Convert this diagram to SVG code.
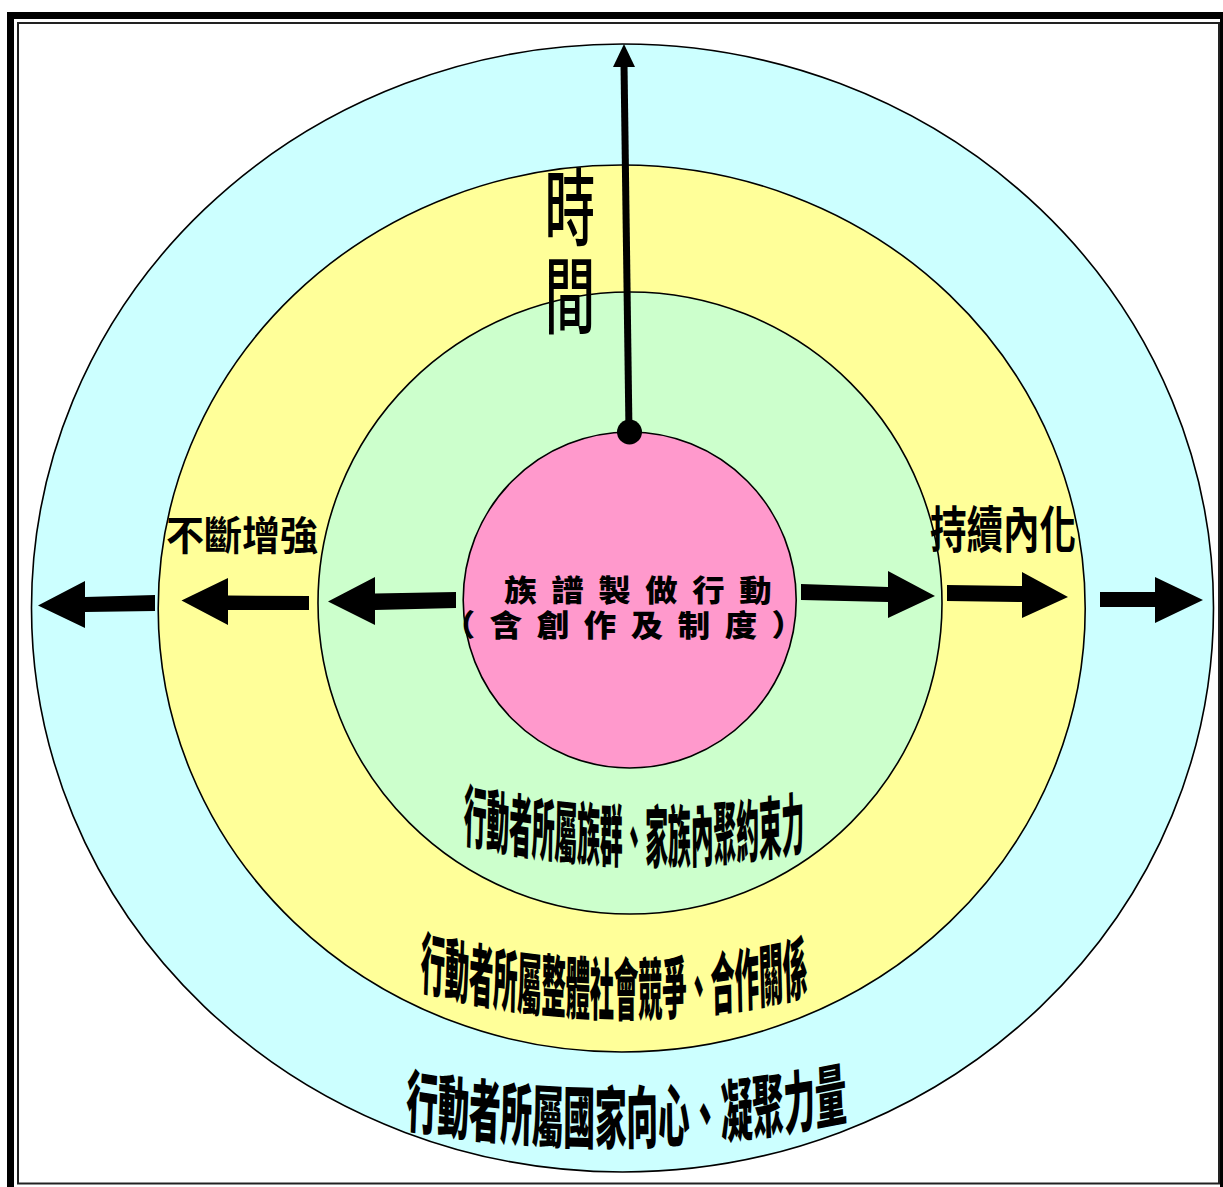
<svg xmlns="http://www.w3.org/2000/svg" xmlns:xlink="http://www.w3.org/1999/xlink" width="1223" height="1187" viewBox="0 0 1223 1187">
<style>
.ring{stroke:#000;stroke-width:1.6}
.cjk{font-family:"Noto Sans CJK TC","Noto Sans CJK SC",sans-serif;fill:#000}
.heavy{font-weight:900}
.bold{font-weight:700}
.arrow{fill:#000;stroke:none}
</style>
<defs>
<path id="arc1" d="M -510 840 Q 0 880 510 848"/>
<path id="arc2" d="M -543 987 Q 0 1040.5 543 992"/>
<path id="arc3" d="M -476 1125 Q 0 1164.5 476 1118"/>
</defs>
<rect width="1223" height="1187" fill="#fff"/>
<g id="frame">
<rect x="10.5" y="15.5" width="1213" height="1180" fill="none" stroke="#000" stroke-width="7"/>
<rect x="18" y="23" width="1201" height="1160.5" fill="none" stroke="#222" stroke-width="2"/>
</g>
<g id="ring-nation">
<ellipse class="ring" cx="622.5" cy="608" rx="591" ry="564" fill="#CCFFFF"/>
</g>
<g id="ring-society">
<ellipse class="ring" cx="621.7" cy="608.5" rx="463.5" ry="443.5" fill="#FFFF99"/>
</g>
<g id="ring-group">
<ellipse class="ring" cx="630" cy="603" rx="312" ry="311" fill="#CCFFCC"/>
</g>
<g id="core">
<ellipse class="ring" cx="629.7" cy="600" rx="166.5" ry="168" fill="#FF99CC"/>
<text class="cjk heavy" transform="scale(1.08,1)" font-size="30" letter-spacing="13.5"><tspan x="467" y="601">族譜製做行動</tspan><tspan x="410" y="636">（含創作及制度）</tspan></text>
</g>
<g id="connectors">
<line x1="629" y1="432" x2="624" y2="64" stroke="#000" stroke-width="7"/>
<polygon class="arrow" points="624,44 613,67 635,67"/>
<circle cx="629.5" cy="432" r="12.5" fill="#000"/>
<polygon class="arrow" points="38,605.5 85,581 85,597 155,595 155,611 85,612 85,628"/>
<polygon class="arrow" points="181.5,600.5 228,578 228,595.5 309,596 309,610 228,610 228,625"/>
<polygon class="arrow" points="328,601.5 375,577 375,593.5 456,592 456,608 375,610 375,625"/>
<polygon class="arrow" points="801,584 888,587 888,571 935,596 888,618 888,602 801,600"/>
<polygon class="arrow" points="947,585 1022,586 1022,572 1068,597 1022,618 1022,602 947,601"/>
<polygon class="arrow" points="1100,592 1155,592 1155,577 1203,600 1155,623 1155,607 1100,607"/>
</g>
<g id="label-time">
<text class="cjk" transform="translate(570,165) scale(0.6,1)" font-size="84" font-weight="500" writing-mode="vertical-rl" letter-spacing="4" x="0" y="0">時間</text>
</g>
<g id="label-strengthen">
<text class="cjk bold" x="166" y="550" font-size="40" textLength="152" lengthAdjust="spacingAndGlyphs">不斷增強</text>
</g>
<g id="label-internalize">
<text class="cjk bold" x="930" y="548" font-size="50" textLength="146" lengthAdjust="spacingAndGlyphs">持續內化</text>
</g>
<g id="label-group">
<text class="cjk heavy" transform="translate(634,0) scale(0.335,1)" font-size="68" text-anchor="middle"><textPath href="#arc1" xlink:href="#arc1" startOffset="50%">行動者所屬族群、家族內聚約束力</textPath></text>
</g>
<g id="label-society">
<text class="cjk heavy" transform="translate(614,0) scale(0.357,1)" font-size="68" text-anchor="middle"><textPath href="#arc2" xlink:href="#arc2" startOffset="50%">行動者所屬整體社會競爭、合作關係</textPath></text>
</g>
<g id="label-nation">
<text class="cjk heavy" transform="translate(626.5,0) scale(0.465,1)" font-size="68" text-anchor="middle"><textPath href="#arc3" xlink:href="#arc3" startOffset="50%">行動者所屬國家向心、凝聚力量</textPath></text>
</g>
</svg>
